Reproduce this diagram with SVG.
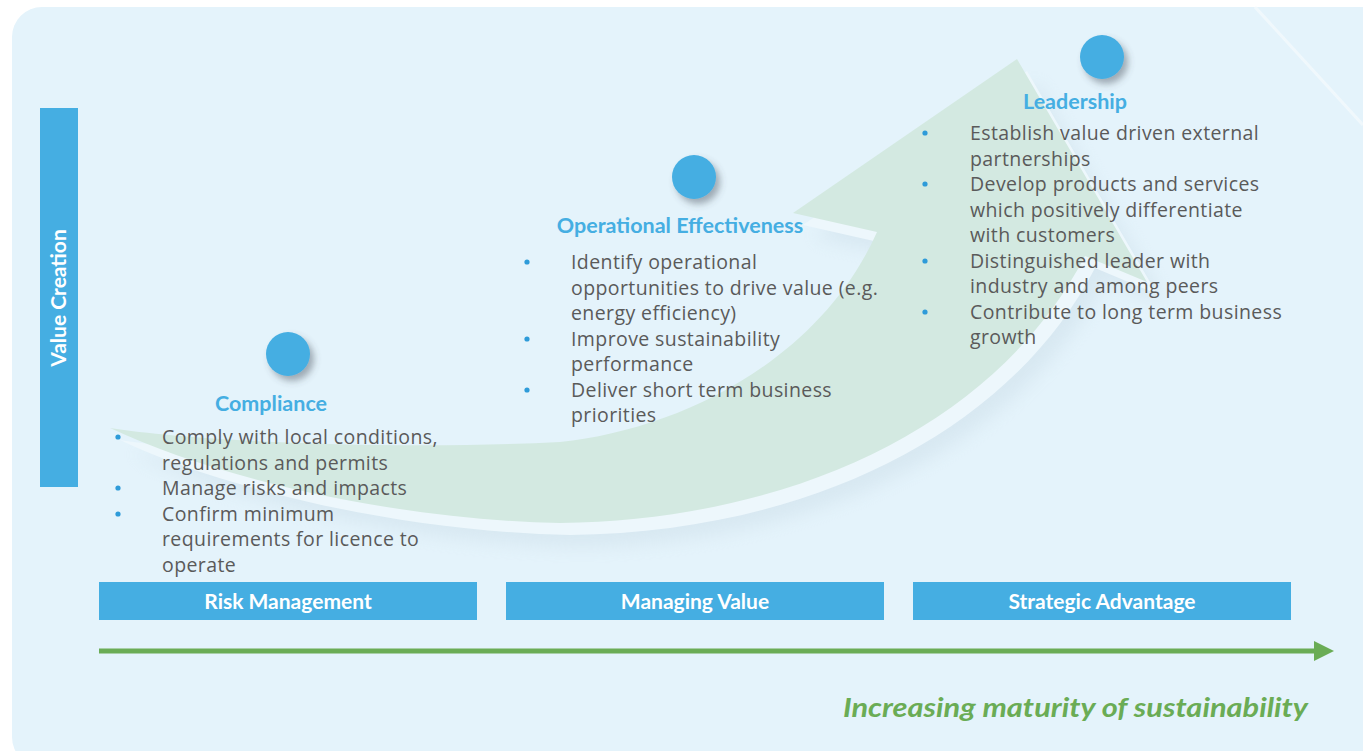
<svg xmlns="http://www.w3.org/2000/svg" width="1363" height="751" viewBox="0 0 1363 751">
<defs>
<style>
.body{font-family:"Open Sans","Liberation Sans",sans-serif;font-size:19.5px;letter-spacing:0.4px;fill:#5a5a5a}
.title{font-family:Lato,"Liberation Sans",sans-serif;font-weight:700;font-size:21.5px;fill:#45aee2;text-anchor:middle}
.box{fill:#45aee2}
.boxtxt{font-family:Lato,"Liberation Sans",sans-serif;font-weight:700;font-size:21px;fill:#ffffff;text-anchor:middle}
.dot{fill:#2e9bd9}
.circ{fill:#45aee2}
</style>
<filter id="sh" x="-50%" y="-50%" width="200%" height="200%">
<feDropShadow dx="4" dy="5" stdDeviation="3.5" flood-color="#44505a" flood-opacity="0.45"/>
</filter>
<filter id="blur" x="-20%" y="-20%" width="140%" height="140%">
<feGaussianBlur stdDeviation="9"/>
</filter>
<path id="swoosh" d="M110,428 C200,442 400,450 560,442 C680,430 820,360 877,232 L793,213 L1017,59 L1147,282 L1085,256 C1000,420 800,520 560,523 C400,520 220,480 110,428 Z"/>
<marker id="ah" viewBox="0 0 10 10" refX="1" refY="5" markerWidth="6.2" markerHeight="4" markerUnits="strokeWidth" orient="auto">
<path d="M0,0 L10,5 L0,10 Z" fill="#6aac55"/>
</marker>
</defs>
<rect x="12" y="7" width="1380" height="760" rx="30" fill="#e4f3fb"/>
<line x1="1255" y1="7" x2="1363" y2="125" stroke="#f4fafd" stroke-width="3" opacity="0.8"/>
<g id="swoosh-shape">
<use href="#swoosh" transform="translate(20,24)" fill="#c9dbe6" opacity="0.45" filter="url(#blur)"/>
<use href="#swoosh" transform="translate(10,12)" fill="#edf7fc"/>
<use href="#swoosh" fill="#d3e9e1"/>
</g>
<g id="value-creation">
<rect x="40" y="108" width="38" height="379" fill="#45aee2"/>
<text class="boxtxt" transform="translate(66,298) rotate(-90)">Value Creation</text>
</g>
<g id="compliance">
<circle class="circ" cx="288" cy="354" r="22" filter="url(#sh)"/>
<text class="title" x="271" y="411">Compliance</text>
<circle class="dot" cx="118" cy="437" r="2.6"/>
<circle class="dot" cx="118" cy="488" r="2.6"/>
<circle class="dot" cx="118" cy="514" r="2.6"/>
<text class="body"><tspan x="162" y="444">Comply with local conditions,</tspan><tspan x="162" y="469.5">regulations and permits</tspan><tspan x="162" y="495">Manage risks and impacts</tspan><tspan x="162" y="520.5">Confirm minimum</tspan><tspan x="162" y="546">requirements for licence to</tspan><tspan x="162" y="571.5">operate</tspan></text>
</g>
<g id="operational">
<circle class="circ" cx="694" cy="177" r="22" filter="url(#sh)"/>
<text class="title" x="680" y="233">Operational Effectiveness</text>
<circle class="dot" cx="527" cy="262" r="2.6"/>
<circle class="dot" cx="527" cy="339" r="2.6"/>
<circle class="dot" cx="527" cy="390" r="2.6"/>
<text class="body"><tspan x="571" y="269">Identify operational</tspan><tspan x="571" y="294.5">opportunities to drive value (e.g.</tspan><tspan x="571" y="320">energy efficiency)</tspan><tspan x="571" y="345.5">Improve sustainability</tspan><tspan x="571" y="371">performance</tspan><tspan x="571" y="396.5">Deliver short term business</tspan><tspan x="571" y="422">priorities</tspan></text>
</g>
<g id="leadership">
<circle class="circ" cx="1102" cy="57" r="22" filter="url(#sh)"/>
<text class="title" x="1075" y="109">Leadership</text>
<circle class="dot" cx="925" cy="133" r="2.6"/>
<circle class="dot" cx="925" cy="184" r="2.6"/>
<circle class="dot" cx="925" cy="261" r="2.6"/>
<circle class="dot" cx="925" cy="312" r="2.6"/>
<text class="body"><tspan x="970" y="140">Establish value driven external</tspan><tspan x="970" y="165.5">partnerships</tspan><tspan x="970" y="191">Develop products and services</tspan><tspan x="970" y="216.5">which positively differentiate</tspan><tspan x="970" y="242">with customers</tspan><tspan x="970" y="267.5">Distinguished leader with</tspan><tspan x="970" y="293">industry and among peers</tspan><tspan x="970" y="318.5">Contribute to long term business</tspan><tspan x="970" y="344">growth</tspan></text>
</g>
<g id="risk-management">
<rect class="box" x="99" y="582" width="378" height="38"/>
<text class="boxtxt" x="288" y="609">Risk Management</text>
</g>
<g id="managing-value">
<rect class="box" x="506" y="582" width="378" height="38"/>
<text class="boxtxt" x="695" y="609">Managing Value</text>
</g>
<g id="strategic-advantage">
<rect class="box" x="913" y="582" width="378" height="38"/>
<text class="boxtxt" x="1102" y="609">Strategic Advantage</text>
</g>
<g id="connectors">
<line x1="99" y1="651" x2="1316" y2="651" stroke="#6aac55" stroke-width="5" marker-end="url(#ah)"/>
</g>
<g id="axis-label">
<text x="843" y="717" font-family="Lato,'Liberation Sans',sans-serif" font-weight="700" font-style="italic" font-size="27" fill="#6aac55" textLength="465" lengthAdjust="spacingAndGlyphs">Increasing maturity of sustainability</text>
</g>
</svg>
